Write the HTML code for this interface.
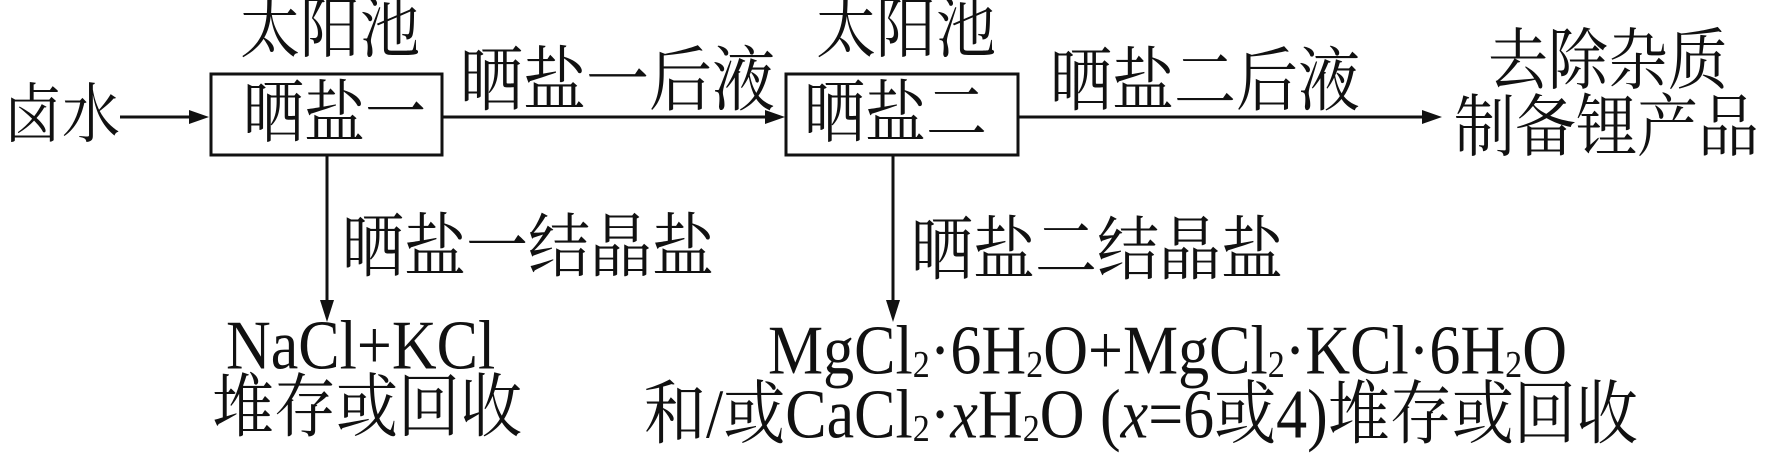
<!DOCTYPE html>
<html><head><meta charset="utf-8"><style>
body{margin:0;width:1772px;height:449px;background:#fff;position:relative;overflow:hidden;font-family:"Liberation Serif","Noto Serif CJK SC",serif;color:#111}
.t{position:absolute;white-space:nowrap;line-height:1;font-size:61px}
.s{transform:scale(1,1.12);transform-origin:0 50%}
sub{font-size:0.55em;vertical-align:-0.1em;line-height:0}
</style></head><body>
<svg width="1772" height="449" style="position:absolute;left:0;top:0">
<g stroke="#111" stroke-width="3" fill="none">
<rect x="211" y="74" width="231" height="81"/>
<rect x="786" y="74" width="232" height="81"/>
<line x1="120" y1="117" x2="195" y2="117"/>
<line x1="443" y1="117" x2="770" y2="117"/>
<line x1="1019" y1="117" x2="1427" y2="117"/>
<line x1="327" y1="155" x2="327" y2="305"/>
<line x1="893" y1="155" x2="893" y2="305"/>
</g>
<g fill="#111">
<path d="M209,117 L189,110 L189,124 Z"/>
<path d="M785,117 L765,110 L765,124 Z"/>
<path d="M1442,117 L1422,110 L1422,124 Z"/>
<path d="M327,322 L320,300 L334,300 Z"/>
<path d="M893,322 L886,300 L900,300 Z"/>
</g>
</svg>
<div class="t s" style="left:240px;top:-1px;font-size:60px">太阳池</div>
<div class="t s" style="left:816px;top:-1px;font-size:60px">太阳池</div>
<div class="t s" style="left:4px;top:86px;font-size:58px">卤水</div>
<div class="t s" style="left:243px;top:84px">晒盐一</div>
<div class="t s" style="left:804px;top:84px">晒盐二</div>
<div class="t s" style="left:460px;top:50px;font-size:63px">晒盐一后液</div>
<div class="t s" style="left:1050px;top:51px;font-size:62px">晒盐二后液</div>
<div class="t s" style="left:1488px;top:31px;font-size:60px">去除杂质</div>
<div class="t s" style="left:1454px;top:98px;font-size:61px">制备锂产品</div>
<div class="t s" style="left:342px;top:217px;font-size:62px">晒盐一结晶盐</div>
<div class="t s" style="left:911px;top:220px;font-size:62px">晒盐二结晶盐</div>
<div class="t s" style="left:226px;top:315px;font-size:62px">NaCl+KCl</div>
<div class="t s" style="left:212px;top:377px;font-size:62px">堆存或回收</div>
<div class="t s" style="left:768px;top:320px;font-size:62px">MgCl<sub>2</sub>·6H<sub>2</sub>O+MgCl<sub>2</sub>·KCl·6H<sub>2</sub>O</div>
<div class="t s" style="left:644px;top:384px;font-size:62px">和/或CaCl<sub>2</sub>·<i>x</i>H<sub>2</sub>O (<i>x</i>=6或4)堆存或回收</div>
</body></html>
